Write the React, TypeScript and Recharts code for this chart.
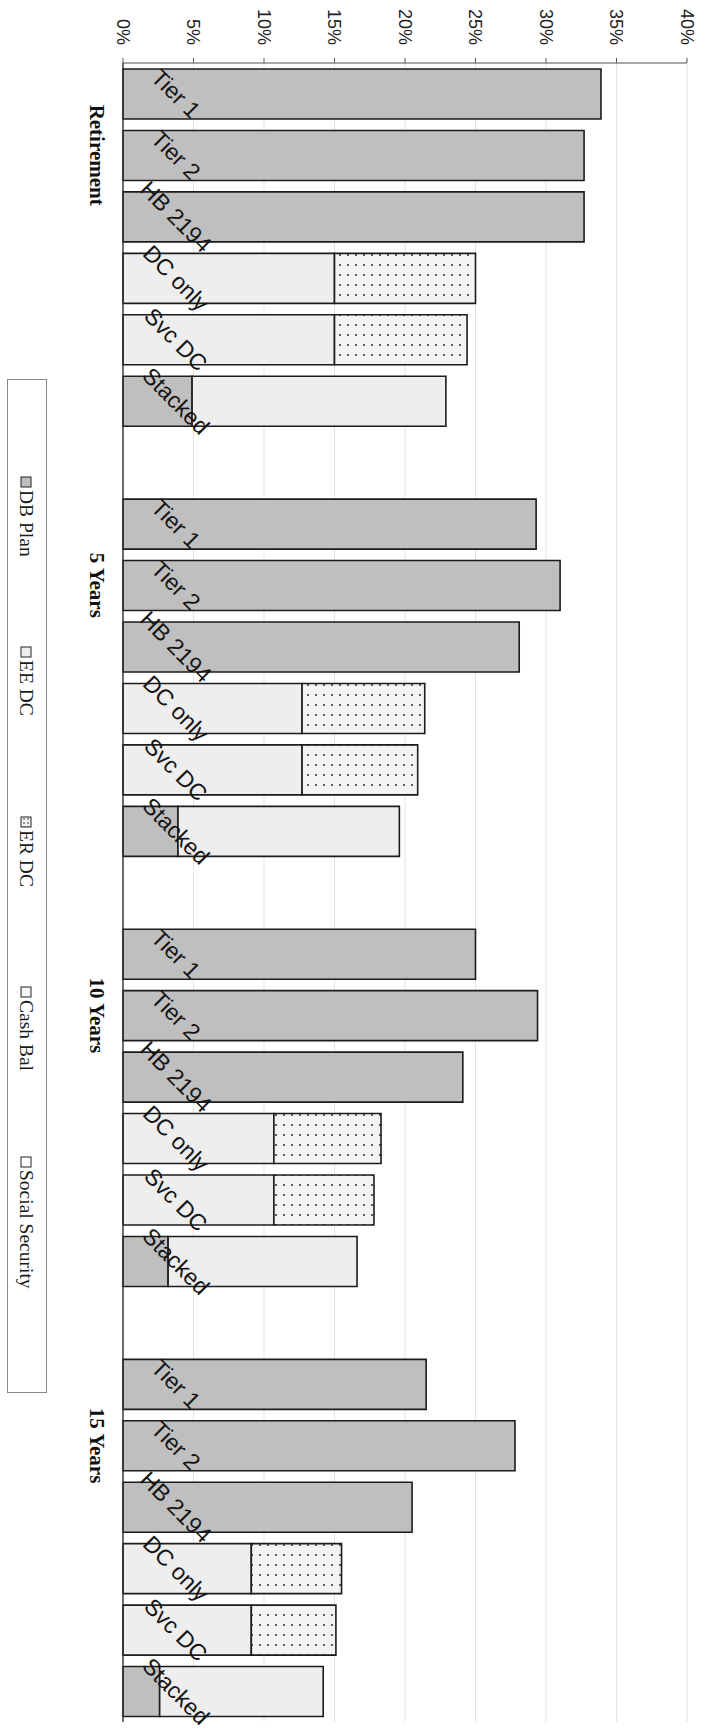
import React from 'react';
import { BarChart, Bar, XAxis, YAxis, CartesianGrid, Legend } from 'recharts';

// ---------- data ----------
const GROUPS = ['Retirement', '5 Years', '10 Years', '15 Years'];
const PLANS = ['Tier 1', 'Tier 2', 'HB 2194', 'DC only', 'Svc DC', 'Stacked'];
const SERIES_NAMES = ['DB Plan', 'EE DC', 'ER DC', 'Cash Bal', 'Social Security'];
const X_TICKS = [0, 5, 10, 15, 20, 25, 30, 35, 40];

// values in % of pay, one inner array per group, in PLANS order
const DB_PLAN = [
  [33.9, 32.7, 32.7, 0, 0, 4.9],
  [29.3, 31.0, 28.1, 0, 0, 3.9],
  [25.0, 29.4, 24.1, 0, 0, 3.2],
  [21.5, 27.8, 20.5, 0, 0, 2.6],
];
const EE_DC = [
  [0, 0, 0, 15.0, 15.0, 0],
  [0, 0, 0, 12.7, 12.7, 0],
  [0, 0, 0, 10.7, 10.7, 0],
  [0, 0, 0, 9.1, 9.1, 0],
];
const ER_DC = [
  [0, 0, 0, 10.0, 9.4, 0],
  [0, 0, 0, 8.7, 8.2, 0],
  [0, 0, 0, 7.6, 7.1, 0],
  [0, 0, 0, 6.4, 6.0, 0],
];
const CASH_BAL = [
  [0, 0, 0, 0, 0, 18.0],
  [0, 0, 0, 0, 0, 15.7],
  [0, 0, 0, 0, 0, 13.4],
  [0, 0, 0, 0, 0, 11.6],
];
const SOCIAL_SECURITY = [
  [0, 0, 0, 0, 0, 0],
  [0, 0, 0, 0, 0, 0],
  [0, 0, 0, 0, 0, 0],
  [0, 0, 0, 0, 0, 0],
];

// ---------- styles ----------
const DB_FILL = '#bfbfbf';
const LIGHT_FILL = '#eeeeee';
const DOT_FILL = 'url(#erDots)';
const SWATCH_FILLS = [DB_FILL, LIGHT_FILL, DOT_FILL, '#f7f7f7', '#ffffff'];
const BAR_STROKE = '#1c1c1c';
const SANS = "'Liberation Sans', Arial, sans-serif";
const SERIF = "'Liberation Serif', 'Times New Roman', serif";

// table for the chart (built from the arrays above)
type Row = {
  key: string;
  plan: string;
  group: string;
  db?: number;
  ee?: number;
  er?: number;
  cash?: number;
  ss?: number;
};
const rows: Row[] = [];
GROUPS.forEach((g, gi) => {
  PLANS.forEach((p, pi) => {
    rows.push({
      key: `${gi}-${pi}`,
      plan: p,
      group: pi === 1 ? g : '',
      db: DB_PLAN[gi][pi],
      ee: EE_DC[gi][pi],
      er: ER_DC[gi][pi],
      cash: CASH_BAL[gi][pi],
      ss: SOCIAL_SECURITY[gi][pi],
    });
  });
  if (gi < GROUPS.length - 1) rows.push({ key: `gap-${gi}`, plan: '', group: '' });
});
const rowByKey: Record<string, Row> = {};
rows.forEach((r) => (rowByKey[r.key] = r));

const ValueTick = (props: any) => {
  const { x, y, payload } = props;
  const ty = y - 11;
  return (
    <text
      x={x}
      y={ty}
      dy="0.35em"
      transform={`rotate(90, ${x}, ${ty})`}
      textAnchor="end"
      fontFamily={SANS}
      fontSize={18}
      fill="#222"
    >
      {`${payload.value}%`}
    </text>
  );
};

const CategoryTick = (props: any) => {
  const { x, y, payload } = props;
  const row = rowByKey[payload.value];
  if (!row) return null;
  const px = x + 53;
  const gx = x - 26;
  return (
    <g>
      {row.plan ? (
        <text
          x={px}
          y={y}
          dy="0.35em"
          transform={`rotate(45, ${px}, ${y})`}
          textAnchor="middle"
          fontFamily={SANS}
          fontSize={23}
          fill="#151515"
        >
          {row.plan}
        </text>
      ) : null}
      {row.group ? (
        <text
          x={gx}
          y={y}
          dy="0.35em"
          transform={`rotate(90, ${gx}, ${y})`}
          textAnchor="middle"
          fontFamily={SERIF}
          fontWeight="bold"
          fontSize={21}
          fill="#111"
        >
          {row.group}
        </text>
      ) : null}
    </g>
  );
};

const LEGEND_W = 40;
const LEGEND_H = 1014;
const renderLegend = () => (
  <svg width={LEGEND_W} height={LEGEND_H} style={{ display: 'block' }}>
    <defs>
      <pattern id="legDots" width="4" height="4" patternUnits="userSpaceOnUse">
        <rect width="4" height="4" fill="#f0f0f0" />
        <circle cx="2" cy="2" r="0.8" fill="#333" />
      </pattern>
    </defs>
    <rect x={0.5} y={0.5} width={LEGEND_W - 1} height={LEGEND_H - 1} fill="#fff" stroke="#8a8a8a" strokeWidth={1} />
    {SERIES_NAMES.map((name, i) => {
      const cy = 98 + i * 170;
      const cx = 19;
      const fill = SWATCH_FILLS[i] === DOT_FILL ? 'url(#legDots)' : SWATCH_FILLS[i];
      return (
        <g key={name} transform={`translate(${cx}, ${cy}) rotate(90)`}>
          <rect x={0} y={-5} width={10} height={10} fill={fill} stroke="#222" strokeWidth={1} />
          <text x={13} y={6} fontFamily={SERIF} fontSize={19.5} fill="#1a1a1a">
            {name}
          </text>
        </g>
      );
    })}
  </svg>
);

export default function App() {
  return (
    <div style={{ position: 'absolute', left: 0, top: 0, width: 718, height: 1732, background: '#fff' }}>
      <BarChart
        width={718}
        height={1732}
        data={rows}
        layout="vertical"
        margin={{ top: 0, right: 31, bottom: 10, left: 0 }}
        barSize={50}
      >
        <defs>
          <pattern id="erDots" width="8" height="10" patternUnits="userSpaceOnUse">
            <rect width="8" height="10" fill="#f3f3f3" />
            <circle cx="4" cy="5" r="1" fill="#2a2a2a" />
          </pattern>
        </defs>
        <CartesianGrid horizontal={false} vertical={true} stroke="#e3e3e3" strokeWidth={1} />
        <Bar dataKey="db" name={SERIES_NAMES[0]} stackId="s" fill={DB_FILL} stroke={BAR_STROKE} strokeWidth={1.6} isAnimationActive={false} />
        <Bar dataKey="ee" name={SERIES_NAMES[1]} stackId="s" fill={LIGHT_FILL} stroke={BAR_STROKE} strokeWidth={1.6} isAnimationActive={false} />
        <Bar dataKey="er" name={SERIES_NAMES[2]} stackId="s" fill={DOT_FILL} stroke={BAR_STROKE} strokeWidth={1.6} isAnimationActive={false} />
        <Bar dataKey="cash" name={SERIES_NAMES[3]} stackId="s" fill={LIGHT_FILL} stroke={BAR_STROKE} strokeWidth={1.6} isAnimationActive={false} />
        <Bar dataKey="ss" name={SERIES_NAMES[4]} stackId="s" fill="#ffffff" stroke={BAR_STROKE} strokeWidth={1.6} isAnimationActive={false} />
        <XAxis
          type="number"
          orientation="top"
          domain={[0, 40]}
          ticks={X_TICKS}
          interval={0}
          height={63}
          tickSize={5}
          axisLine={{ stroke: '#555', strokeWidth: 1.2 }}
          tickLine={{ stroke: '#555' }}
          tick={<ValueTick />}
        />
        <XAxis
          xAxisId="bottom"
          type="number"
          orientation="bottom"
          domain={[0, 40]}
          height={0}
          tick={false}
          tickLine={false}
          axisLine={{ stroke: '#666', strokeWidth: 1.2 }}
        />
        <YAxis
          type="category"
          dataKey="key"
          width={123}
          interval={0}
          tickSize={0}
          tickMargin={0}
          tickLine={false}
          axisLine={{ stroke: '#333', strokeWidth: 1.4 }}
          tick={<CategoryTick />}
        />
        <Legend
          layout="vertical"
          align="center"
          verticalAlign="middle"
          content={renderLegend}
          wrapperStyle={{ left: 7, top: 379, width: LEGEND_W, height: LEGEND_H }}
        />
      </BarChart>
    </div>
  );
}
